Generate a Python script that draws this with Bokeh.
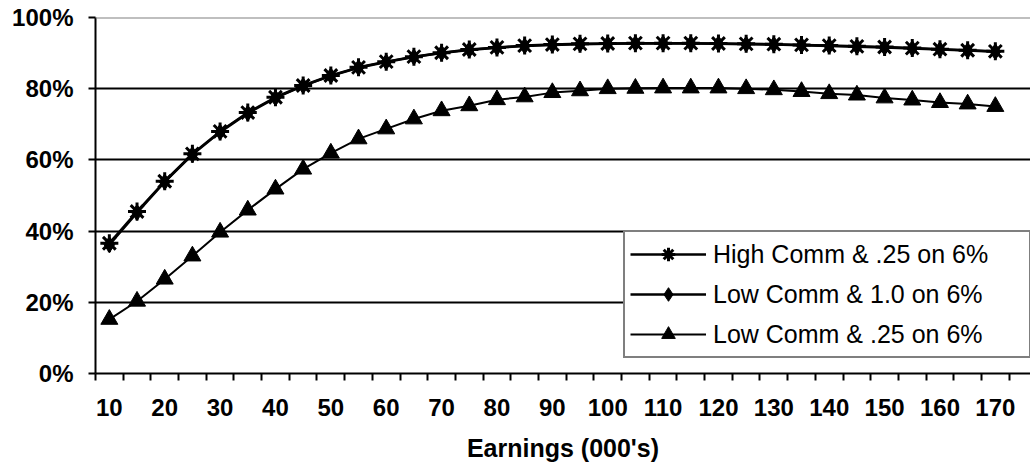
from bokeh.plotting import figure
from bokeh.models import (FixedTicker, PrintfTickFormatter, Span, Legend,
                          LegendItem, Range1d)
from bokeh.embed import file_html
from bokeh.resources import INLINE

# ---- data ----
earnings = [10, 15, 20, 25, 30, 35, 40, 45, 50, 55, 60, 65, 70, 75, 80, 85,
            90, 95, 100, 105, 110, 115, 120, 125, 130, 135, 140, 145, 150,
            155, 160, 165, 170]
high_comm_25 = [36.6, 45.5, 54.0, 61.7, 68.0, 73.3, 77.6, 80.9, 83.7, 86.0,
                87.6, 89.0, 90.1, 91.0, 91.6, 92.1, 92.4, 92.6, 92.7, 92.8,
                92.8, 92.8, 92.7, 92.6, 92.5, 92.3, 92.1, 91.9, 91.7, 91.4,
                91.1, 90.8, 90.5]
low_comm_10 = [36.2, 45.2, 53.8, 61.5, 67.8, 73.1, 77.4, 80.8, 83.6, 85.9,
               87.5, 88.9, 90.0, 90.9, 91.5, 92.0, 92.3, 92.5, 92.6, 92.7,
               92.7, 92.7, 92.6, 92.5, 92.4, 92.2, 92.0, 91.8, 91.6, 91.3,
               91.0, 90.7, 90.4]
low_comm_25 = [15.2, 20.3, 26.5, 33.0, 39.7, 45.9, 51.8, 57.4, 61.9, 65.9,
               68.7, 71.5, 73.8, 75.2, 76.9, 77.7, 78.9, 79.4, 80.0, 80.1,
               80.2, 80.2, 80.2, 80.0, 79.7, 79.2, 78.6, 78.2, 77.4, 76.8,
               76.1, 75.7, 75.0]
series_names = ["High Comm & .25 on 6%", "Low Comm & 1.0 on 6%",
                "Low Comm & .25 on 6%"]
x_tick_labels = [10, 20, 30, 40, 50, 60, 70, 80, 90, 100, 110, 120, 130,
                 140, 150, 160, 170]
x_boundaries = [7.5 + 5 * i for i in range(34)]
y_ticks = [0, 20, 40, 60, 80, 100]

FONT = "Liberation Sans"

p = figure(width=1030, height=467, output_backend="svg", toolbar_location=None,
           x_range=Range1d(7.5, 176.35), y_range=Range1d(0, 100),
           min_border_left=95, min_border_right=0, min_border_top=17,
           min_border_bottom=94, background_fill_color="white",
           border_fill_color="white")
p.outline_line_color = None

# grid
p.xgrid.visible = False
p.ygrid.ticker = FixedTicker(ticks=[20, 40, 60, 80])
p.ygrid.grid_line_color = "black"
p.ygrid.grid_line_width = 2
p.add_layout(Span(location=100, dimension="width", line_color="#808080",
                  line_width=2))

# x axis
xa = p.xaxis[0]
xa.ticker = FixedTicker(ticks=x_tick_labels, minor_ticks=x_boundaries)
xa.major_tick_out = 0
xa.major_tick_in = 0
xa.minor_tick_out = 7
xa.minor_tick_in = 0
xa.minor_tick_line_color = "black"
xa.minor_tick_line_width = 2
xa.axis_line_width = 2
xa.axis_line_color = "black"
xa.major_label_standoff = 18
xa.major_label_text_font = FONT
xa.major_label_text_font_style = "bold"
xa.major_label_text_font_size = "24px"
xa.major_label_text_color = "black"
xa.axis_label = "Earnings (000's)"
xa.axis_label_text_font = FONT
xa.axis_label_text_font_style = "bold"
xa.axis_label_text_font_size = "25px"
xa.axis_label_text_color = "black"
xa.axis_label_standoff = 15

# y axis
ya = p.yaxis[0]
ya.ticker = FixedTicker(ticks=y_ticks)
ya.formatter = PrintfTickFormatter(format="%d%%")
ya.major_tick_out = 7
ya.major_tick_in = 0
ya.minor_tick_out = 0
ya.minor_tick_in = 0
ya.major_tick_line_width = 2
ya.major_tick_line_color = "black"
ya.axis_line_width = 2
ya.axis_line_color = "black"
ya.major_label_standoff = 15
ya.major_label_text_font = FONT
ya.major_label_text_font_style = "bold"
ya.major_label_text_font_size = "24px"
ya.major_label_text_color = "black"

# series
l1 = p.line(earnings, high_comm_25, line_color="black", line_width=2.5)
l2 = p.line(earnings, low_comm_10, line_color="black", line_width=2.5)
l3 = p.line(earnings, low_comm_25, line_color="black", line_width=2)
m2 = p.scatter(earnings, low_comm_10, marker="diamond", size=16,
               fill_color="black", line_color="black")
m1 = p.scatter(earnings, high_comm_25, marker="asterisk", size=18,
               line_color="black", line_width=3)
m3 = p.scatter(earnings, low_comm_25, marker="triangle", size=17,
               fill_color="black", line_color="black")

legend = Legend(items=[
    LegendItem(label=series_names[0], renderers=[l1, m1]),
    LegendItem(label=series_names[1], renderers=[l2, m2]),
    LegendItem(label=series_names[2], renderers=[l3, m3]),
], location=(528, 15))
legend.margin = 0
legend.padding = 5
legend.spacing = 6
legend.label_height = 34
legend.glyph_height = 34
legend.glyph_width = 76
legend.label_width = 311
legend.label_standoff = 7
legend.label_text_font = FONT
legend.label_text_font_size = "25px"
legend.label_text_color = "black"
legend.border_line_color = "black"
legend.border_line_width = 2.5
legend.background_fill_color = "white"
legend.background_fill_alpha = 1
p.add_layout(legend)

open("out.html", "w").write(file_html(p, INLINE))
